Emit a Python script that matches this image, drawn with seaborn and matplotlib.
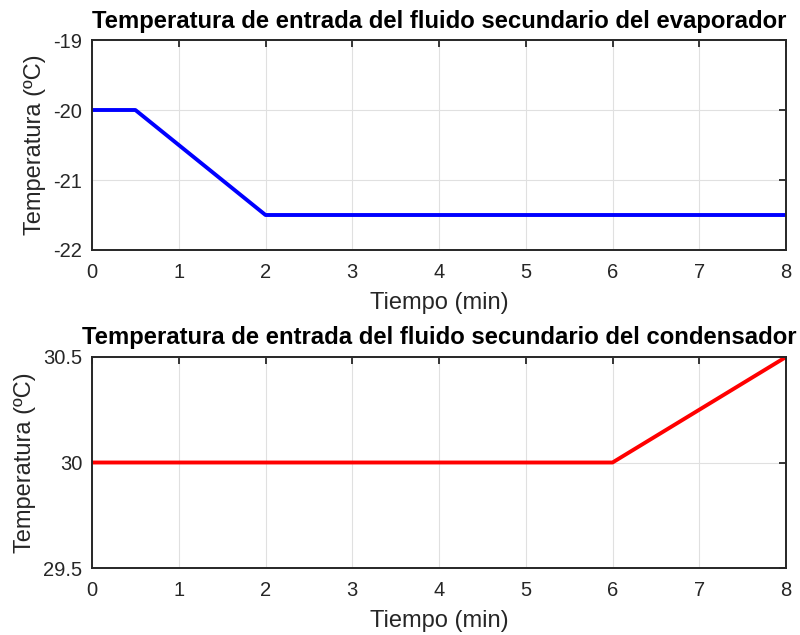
import seaborn as sns
import matplotlib.pyplot as plt
import pandas as pd

# datos
t_evap = [0, 0.5, 2, 8]
temp_evap = [-20, -20, -21.5, -21.5]
t_cond = [0, 6, 8]
temp_cond = [30, 30, 30.5]

sns.set_theme(style="white")
plt.rcParams['font.family'] = ['Liberation Sans', 'DejaVu Sans']
plt.rcParams['axes.unicode_minus'] = False

fig = plt.figure(figsize=(8, 6.35), dpi=100)
ax1 = fig.add_axes([0.115, 0.6063, 0.8675, 0.3307])
ax2 = fig.add_axes([0.115, 0.1055, 0.8675, 0.3323])

df1 = pd.DataFrame(dict(t=t_evap, T=temp_evap))
df2 = pd.DataFrame(dict(t=t_cond, T=temp_cond))

sns.lineplot(data=df1, x="t", y="T", ax=ax1, color=(0, 0, 1), lw=2.8)
sns.lineplot(data=df2, x="t", y="T", ax=ax2, color=(1, 0, 0), lw=2.8)

ax1.set_ylim(-22, -19)
ax1.set_yticks([-22, -21, -20, -19])
ax2.set_ylim(29.5, 30.5)
ax2.set_yticks([29.5, 30, 30.5])
ax2.set_yticklabels(["29.5", "30", "30.5"])

titulos = ["Temperatura de entrada del fluido secundario del evaporador",
           "Temperatura de entrada del fluido secundario del condensador"]

for ax, tit in zip([ax1, ax2], titulos):
    ax.set_xlim(0, 8)
    ax.set_xticks(range(9))
    ax.grid(True, color="#e0e0e0", lw=0.8)
    ax.tick_params(direction="in", length=5, width=1.3, top=True, right=True,
                   labelsize=14.5, colors="#262626")
    ax.tick_params(axis="x", pad=9.5)
    ax.tick_params(axis="y", pad=7)
    for s in ax.spines.values():
        s.set_color("#262626")
        s.set_linewidth(1.4)
    ax.set_xlabel("Tiempo (min)", fontsize=17, color="#262626", labelpad=7)
    ax.set_ylabel("Temperatura (ºC)", fontsize=17, color="#262626", labelpad=5)
    ax.set_title(tit, fontsize=17.2, fontweight="bold", color="black", pad=9)

fig.savefig("out.png", dpi=100)
